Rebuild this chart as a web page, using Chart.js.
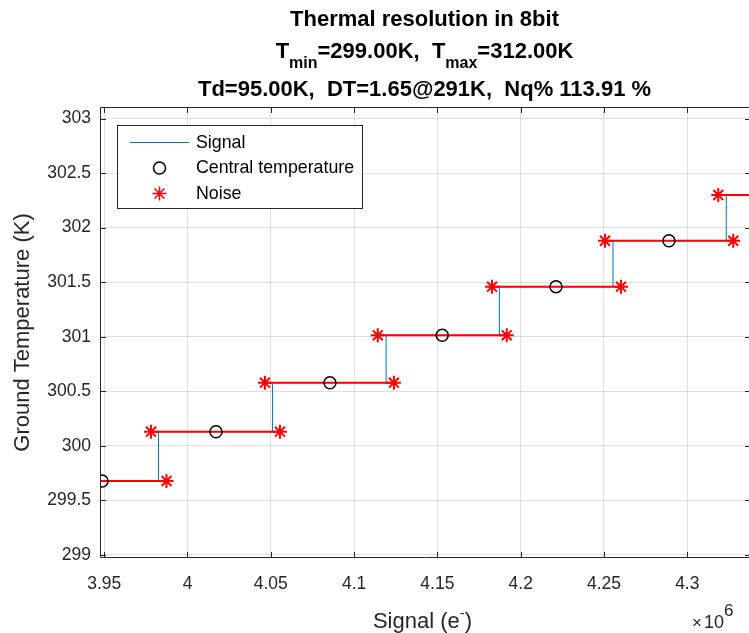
<!DOCTYPE html>
<html>
<head>
<meta charset="utf-8">
<script src="https://cdn.jsdelivr.net/npm/chart.js@4.4.1/dist/chart.umd.min.js"></script>
<style>
  html, body { margin: 0; padding: 0; background: #fff; overflow: hidden; }
  canvas { display: block; }
</style>
</head>
<body>
<canvas id="chart" width="751" height="633"></canvas>
<script>
// Quantisation steps of the 8-bit readout: temperature (K) against signal (e-)
const levels = [299.678, 300.130, 300.579, 301.013, 301.459, 301.880, 302.299];
const centers = [3948700, 4017100, 4085500, 4152900, 4221200, 4289000, 4357000];
const transitions = [3982600, 4051000, 4119200, 4187200, 4255400, 4323400];
const signalStart = 3948700;
const signalEnd = 4391000;
const noiseLow = [3909500, 3978100, 4046500, 4114200, 4182800, 4250600, 4318600];
const noiseHigh = [3987400, 4055500, 4123900, 4191600, 4260200, 4327600, 4396400];

const xTicks = [3950000, 4000000, 4050000, 4100000, 4150000, 4200000, 4250000, 4300000];
const yTicks = [299, 299.5, 300, 300.5, 301, 301.5, 302, 302.5, 303];

const FONT = '"Liberation Sans", Arial, Helvetica, sans-serif';
const AXIS = '#262626';

// signal: flat on each level, vertical jump at every transition
const edges = [signalStart, ...transitions, signalEnd];
const signalData = [];
levels.forEach((t, i) => {
  signalData.push({ x: edges[i], y: t }, { x: edges[i + 1], y: t });
});

// noise band: one red segment per level, broken by a gap point
const noiseData = [];
levels.forEach((t, i) => {
  noiseData.push({ x: noiseLow[i], y: t }, { x: noiseHigh[i], y: t }, { x: noiseHigh[i], y: null });
});

const centerData = centers.map((x, i) => ({ x: x, y: levels[i] }));

function drawParts(ctx, parts, x, baseline, align) {
  let total = 0;
  parts.forEach(p => { ctx.font = p.font; p.w = ctx.measureText(p.t).width + (p.dx || 0); total += p.w; });
  let cx = align === 'center' ? x - total / 2 : x;
  ctx.textAlign = 'left';
  ctx.textBaseline = 'alphabetic';
  parts.forEach(p => {
    ctx.font = p.font;
    ctx.fillText(p.t, cx + (p.dx || 0), baseline + (p.dy || 0));
    cx += p.w;
  });
}

const matlabFrame = {
  id: 'matlabFrame',
  afterDatasetsDraw(chart) {
    const { ctx, chartArea: a, scales } = chart;
    const tl = 6;
    ctx.save();
    ctx.strokeStyle = AXIS;
    ctx.lineWidth = 1;
    ctx.beginPath();
    ctx.rect(a.left + 0.5, a.top + 0.5, a.right - a.left - 1, a.bottom - a.top - 1);
    xTicks.forEach(v => {
      const px = Math.round(scales.x.getPixelForValue(v)) + 0.5;
      ctx.moveTo(px, a.bottom); ctx.lineTo(px, a.bottom - tl);
      ctx.moveTo(px, a.top); ctx.lineTo(px, a.top + tl);
    });
    yTicks.forEach(v => {
      const py = Math.round(scales.y.getPixelForValue(v)) + 0.5;
      ctx.moveTo(a.left, py); ctx.lineTo(a.left + tl, py);
      ctx.moveTo(a.right, py); ctx.lineTo(a.right - tl, py);
    });
    ctx.stroke();
    ctx.restore();
  },
  afterDraw(chart) {
    const { ctx } = chart;
    ctx.save();

    // title
    ctx.fillStyle = '#000';
    const tb = 'bold 22px ' + FONT;
    const ts = 'bold 16px ' + FONT;
    drawParts(ctx, [{ t: 'Thermal resolution in 8bit', font: tb }], 424.5, 26, 'center');
    drawParts(ctx, [
      { t: 'T', font: tb }, { t: 'min', font: ts, dy: 10 },
      { t: '=299.00K,  T', font: tb }, { t: 'max', font: ts, dy: 10 },
      { t: '=312.00K', font: tb }
    ], 424.5, 58, 'center');
    drawParts(ctx, [{ t: 'Td=95.00K,  DT=1.65@291K,  Nq% 113.91 %', font: tb }], 424.5, 96, 'center');

    // axis titles
    ctx.fillStyle = AXIS;
    const lf = '22px ' + FONT;
    drawParts(ctx, [
      { t: 'Signal (e', font: lf }, { t: '-', font: '15px ' + FONT, dy: -10 }, { t: ')', font: lf }
    ], 422.5, 628, 'center');
    drawParts(ctx, [
      { t: '\u00d7', font: '17px ' + FONT }, { t: '10', font: '18px ' + FONT, dx: 2 },
      { t: '6', font: '17px ' + FONT, dy: -12 }
    ], 692, 628, 'left');

    ctx.save();
    ctx.translate(23, 332.5);
    ctx.rotate(-Math.PI / 2);
    ctx.font = lf;
    ctx.textAlign = 'center';
    ctx.textBaseline = 'middle';
    ctx.fillText('Ground Temperature (K)', 0, 0);
    ctx.restore();

    // legend box
    const lx = 117.5, ly = 125.5, lw = 245, lh = 83;
    ctx.fillStyle = '#fff';
    ctx.fillRect(lx, ly, lw, lh);
    ctx.strokeStyle = AXIS;
    ctx.lineWidth = 1;
    ctx.strokeRect(lx, ly, lw, lh);

    const ds = chart.data.datasets;
    ctx.strokeStyle = ds[0].borderColor;
    ctx.lineWidth = 1;
    ctx.beginPath();
    ctx.moveTo(130, 142.5); ctx.lineTo(189, 142.5);
    ctx.stroke();

    ctx.strokeStyle = ds[2].pointBorderColor;
    ctx.lineWidth = ds[2].pointBorderWidth;
    ctx.beginPath();
    ctx.arc(159.5, 168, ds[2].pointRadius, 0, Math.PI * 2);
    ctx.stroke();

    ctx.strokeStyle = ds[1].pointBorderColor;
    Chart.helpers.drawPoint(ctx, {
      pointStyle: 'star', radius: ds[1].pointRadius, rotation: 0, borderWidth: ds[1].pointBorderWidth
    }, 159.5, 193.5);

    ctx.fillStyle = '#000';
    ctx.font = '17.8px ' + FONT;
    ctx.textAlign = 'left';
    ctx.textBaseline = 'middle';
    [ds[0].label, ds[2].label, ds[1].label].forEach((s, i) => {
      ctx.fillText(s, 196, 143 + i * 25.5);
    });
    ctx.restore();
  }
};

new Chart(document.getElementById('chart'), {
  type: 'scatter',
  data: {
    datasets: [
      {
        label: 'Signal',
        data: signalData,
        showLine: true,
        borderColor: '#0072BD',
        borderWidth: 1,
        pointRadius: 0,
        order: 3
      },
      {
        label: 'Noise',
        data: noiseData,
        showLine: true,
        spanGaps: false,
        borderColor: '#ff0000',
        borderWidth: 2,
        pointStyle: 'star',
        pointRadius: 7,
        pointBorderWidth: 2,
        pointBorderColor: '#ff0000',
        pointBackgroundColor: '#ff0000',
        order: 2
      },
      {
        label: 'Central temperature',
        data: centerData,
        showLine: false,
        pointStyle: 'circle',
        pointRadius: 6,
        pointBorderWidth: 1.5,
        pointBorderColor: '#000',
        pointBackgroundColor: 'rgba(0,0,0,0)',
        order: 1
      }
    ]
  },
  options: {
    responsive: false,
    animation: false,
    layout: { autoPadding: false, padding: { top: 107, left: 0, right: 0, bottom: 0 } },
    plugins: {
      legend: { display: false },
      tooltip: { enabled: false },
      title: { display: false }
    },
    scales: {
      x: {
        type: 'linear',
        min: 3947480,
        max: 4338240,
        afterBuildTicks: s => { s.ticks = xTicks.map(v => ({ value: v })); },
        afterFit: s => { s.height = 75; s.paddingLeft = 0; s.paddingRight = 0; },
        border: { display: false },
        grid: { color: 'rgba(38,38,38,0.15)', lineWidth: 1, drawTicks: false },
        ticks: {
          color: AXIS,
          padding: 16,
          maxRotation: 0,
          font: { family: FONT, size: 17.5 },
          callback: v => String(Number((v / 1e6).toFixed(2)))
        }
      },
      y: {
        type: 'linear',
        min: 298.9725,
        max: 303.1054,
        afterBuildTicks: s => { s.ticks = yTicks.map(v => ({ value: v })); },
        afterFit: s => { s.width = 100; s.paddingTop = 0; s.paddingBottom = 0; },
        border: { display: false },
        grid: { color: 'rgba(38,38,38,0.15)', lineWidth: 1, drawTicks: false },
        ticks: {
          color: AXIS,
          padding: 9,
          font: { family: FONT, size: 17.5 },
          callback: v => String(v)
        }
      }
    }
  },
  plugins: [matlabFrame]
});
</script>
</body>
</html>
